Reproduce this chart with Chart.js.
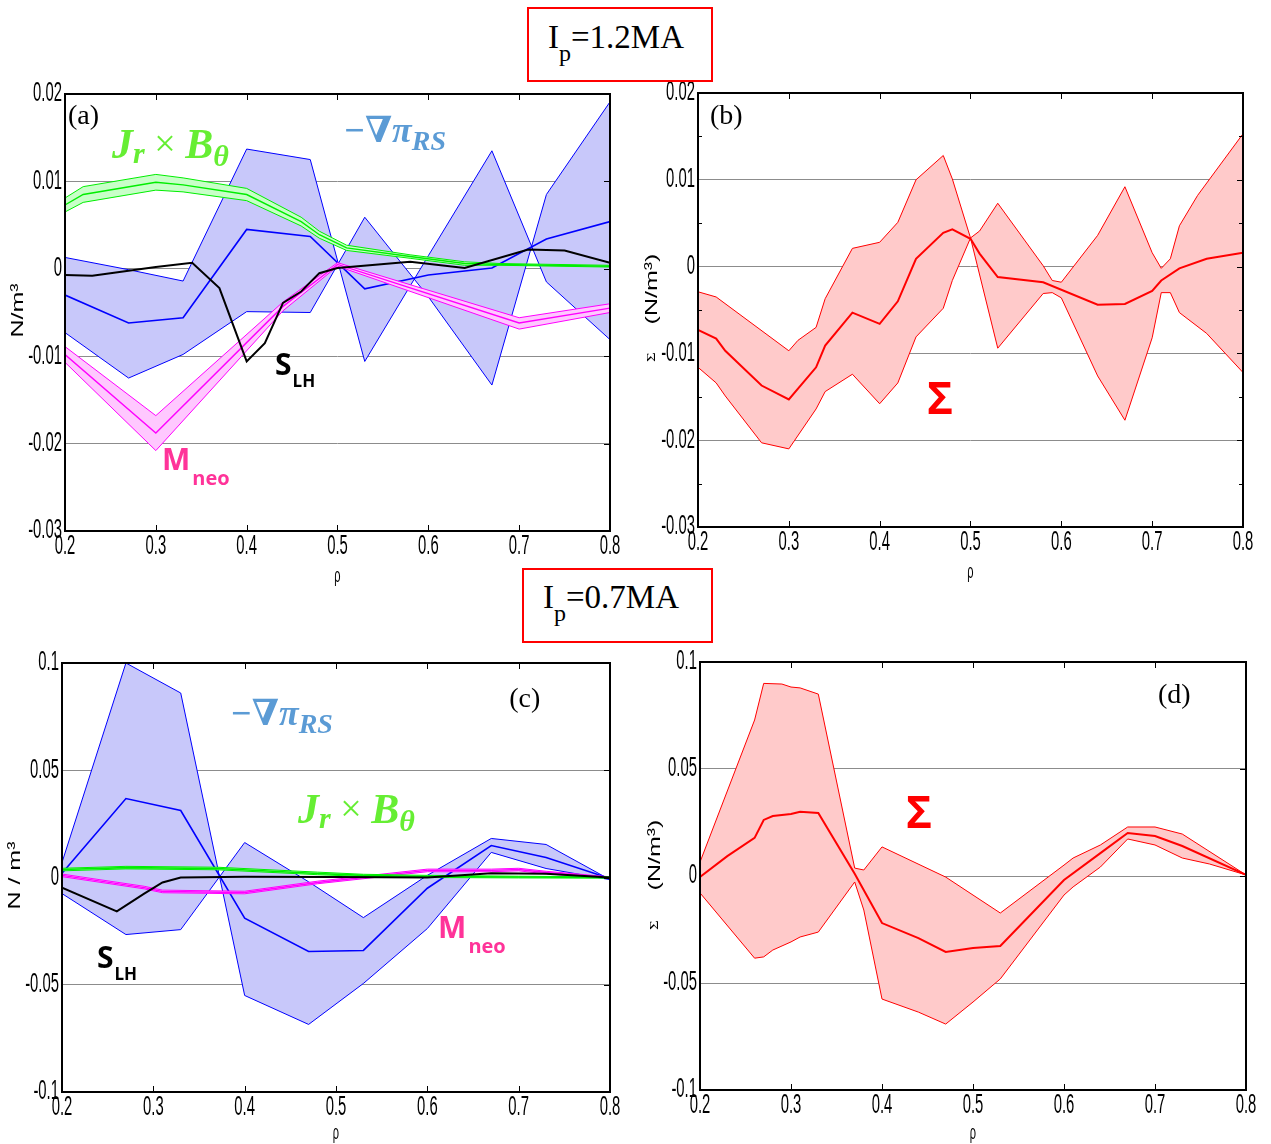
<!DOCTYPE html>
<html>
<head>
<meta charset="utf-8">
<script src="https://cdn.jsdelivr.net/npm/chart.js@4.4.1/dist/chart.umd.min.js"></script>
<style>
  body { margin: 0; background: #fff; width: 1271px; height: 1144px; position: relative; overflow: hidden; }
  canvas { position: absolute; }
  .ipbox { position: absolute; border: 2px solid #ff0000; box-sizing: border-box; background: #fff; z-index: 2; }
  .iptext { position: absolute; font-family: "Liberation Serif", "Times New Roman", serif; font-size: 33px; line-height: 1; white-space: nowrap; color: #000; }
  .iptext span { font-size: 24px; position: relative; top: 13px; }
</style>
</head>
<body>
<canvas id="panelA" width="635" height="590" style="left:0;top:0"></canvas>
<canvas id="panelB" width="636" height="590" style="left:635px;top:0"></canvas>
<canvas id="panelC" width="635" height="554" style="left:0;top:590px"></canvas>
<canvas id="panelD" width="636" height="554" style="left:635px;top:590px"></canvas>

<div class="ipbox" style="left:527px;top:7px;width:186px;height:75px"><div class="iptext" style="left:19px;top:12px">I<span>p</span>=1.2MA</div></div>
<div class="ipbox" style="left:522px;top:568px;width:191px;height:75px"><div class="iptext" style="left:19px;top:11px">I<span>p</span>=0.7MA</div></div>

<script>
// ---------------- (a) Ip = 1.2 MA : force terms ----------------
const rhoA_rs = [0.2, 0.27, 0.33, 0.4, 0.47, 0.53, 0.6, 0.67, 0.73, 0.8];
const rsA_edge1 = [0.0013, -0.0001, -0.0014, 0.0137, 0.0125, -0.0106, 0.0015, 0.0135, -0.0015, -0.0081];
const rsA_edge2 = [-0.0073, -0.0125, -0.0098, -0.0049, -0.0050, 0.0059, -0.0032, -0.0133, 0.0085, 0.0191];
const rsA_mid   = [-0.0030, -0.0062, -0.0056, 0.0045, 0.0037, -0.0023, -0.0007, 0.0001, 0.0034, 0.0054];

const rhoA_jxb = [0.2, 0.22, 0.3, 0.33, 0.4, 0.46, 0.48, 0.51, 0.58, 0.64, 0.68, 0.8];
const jxbA_hi  = [0.0081, 0.0094, 0.0108, 0.0104, 0.0092, 0.0059, 0.0043, 0.0027, 0.0016, 0.0008, 0.0006, 0.0004];
const jxbA_lo  = [0.0065, 0.0076, 0.0090, 0.0088, 0.0078, 0.0049, 0.0035, 0.0021, 0.0012, 0.0004, 0.0004, 0.0002];
const jxbA_mid = [0.0073, 0.0085, 0.0099, 0.0096, 0.0085, 0.0054, 0.0039, 0.0024, 0.0014, 0.0006, 0.0005, 0.0003];

const rhoA_neo = [0.2, 0.3, 0.44, 0.5, 0.7, 0.8];
const neoA_hi  = [-0.0089, -0.0168, -0.0038, 0.0007, -0.0056, -0.0040];
const neoA_lo  = [-0.0107, -0.0208, -0.0048, 0.0003, -0.0069, -0.0050];
const neoA_mid = [-0.0098, -0.0188, -0.0043, 0.0005, -0.0062, -0.0045];

const rhoA_slh = [0.2, 0.23, 0.3, 0.34, 0.37, 0.4, 0.42, 0.44, 0.46, 0.48, 0.5, 0.58, 0.64, 0.71, 0.75, 0.8];
const slhA     = [-0.0007, -0.0008, 0.0002, 0.0007, -0.0022, -0.0106, -0.0085, -0.0039, -0.0026, -0.0005, 0.0001, 0.0008, 0.0001, 0.0022, 0.0021, 0.0007];

// ---------------- (b) Ip = 1.2 MA : sum ----------------
const rhoB_e1 = [0.2, 0.22, 0.3, 0.31, 0.33, 0.34, 0.37, 0.4, 0.42, 0.44, 0.47, 0.48, 0.5, 0.53, 0.58, 0.59, 0.6, 0.64, 0.67, 0.7, 0.71, 0.72, 0.73, 0.76, 0.8];
const sumB_e1 = [-0.0029, -0.0035, -0.0097, -0.0085, -0.0070, -0.0037, 0.0021, 0.0028, 0.0051, 0.0100, 0.0128, 0.0101, 0.0033, -0.0094, -0.0031, -0.0030, -0.0036, -0.0126, -0.0177, -0.0082, -0.0030, -0.0030, -0.0053, -0.0077, -0.0122];
const rhoB_e2 = [0.2, 0.22, 0.23, 0.27, 0.3, 0.33, 0.34, 0.37, 0.4, 0.42, 0.44, 0.47, 0.48, 0.5, 0.51, 0.53, 0.58, 0.59, 0.6, 0.64, 0.67, 0.7, 0.71, 0.72, 0.73, 0.75, 0.8];
const sumB_e2 = [-0.0116, -0.0134, -0.0149, -0.0203, -0.0210, -0.0164, -0.0144, -0.0124, -0.0158, -0.0134, -0.0081, -0.0048, -0.0016, 0.0033, 0.0041, 0.0073, 0.0001, -0.0016, -0.0018, 0.0036, 0.0092, 0.0016, -0.0002, 0.0009, 0.0047, 0.0082, 0.0153];
const rhoB_mid = [0.2, 0.22, 0.23, 0.27, 0.3, 0.33, 0.34, 0.37, 0.4, 0.42, 0.44, 0.47, 0.48, 0.5, 0.51, 0.53, 0.58, 0.64, 0.67, 0.7, 0.71, 0.73, 0.76, 0.8];
const sumB_mid = [-0.0073, -0.0083, -0.0097, -0.0137, -0.0153, -0.0116, -0.0091, -0.0053, -0.0066, -0.0040, 0.0009, 0.0039, 0.0043, 0.0032, 0.0015, -0.0012, -0.0018, -0.0044, -0.0043, -0.0028, -0.0016, -0.0002, 0.0009, 0.0016];

// ---------------- (c) Ip = 0.7 MA : force terms ----------------
const rhoC_rs = [0.2, 0.27, 0.33, 0.4, 0.47, 0.53, 0.6, 0.67, 0.73, 0.8];
const rsC_edge1 = [0.007, 0.1, 0.086, -0.055, -0.0685, -0.0494, -0.0238, 0.0117, 0.0042, -0.001];
const rsC_edge2 = [-0.0075, -0.0266, -0.0243, 0.0163, -0.002, -0.0187, 0.001, 0.0182, 0.0154, -0.001];
const rsC_mid   = [0.002, 0.0368, 0.0312, -0.019, -0.0345, -0.034, -0.005, 0.0149, 0.0093, -0.0005];

const rhoC_jxb = [0.2, 0.27, 0.37, 0.48, 0.53, 0.6, 0.7, 0.8];
const jxbC_hi  = [0.0043, 0.0052, 0.0048, 0.0025, 0.0015, 0.0010, 0.0006, 0.0003];
const jxbC_lo  = [0.0031, 0.0040, 0.0036, 0.0013, 0.0005, 0.0000, -0.0002, -0.0003];
const jxbC_mid = [0.0037, 0.0046, 0.0042, 0.0019, 0.0010, 0.0005, 0.0002, 0.0];

const rhoC_neo = [0.2, 0.29, 0.31, 0.4, 0.48, 0.6, 0.67, 0.7, 0.73, 0.8];
const neoC_hi  = [0.0016, -0.0041, -0.0059, -0.0064, -0.0017, 0.0039, 0.0039, 0.0043, 0.0029, 0.0003];
const neoC_lo  = [0.0004, -0.0053, -0.0071, -0.0076, -0.0029, 0.0027, 0.0027, 0.0031, 0.0017, -0.0003];
const neoC_mid = [0.0010, -0.0047, -0.0065, -0.0070, -0.0023, 0.0033, 0.0033, 0.0037, 0.0023, 0.0];

const rhoC_slh = [0.2, 0.26, 0.29, 0.31, 0.33, 0.4, 0.5, 0.6, 0.67, 0.73, 0.8];
const slhC     = [-0.0047, -0.0158, -0.0075, -0.0023, 0.0, 0.0003, 0.0002, 0.0, 0.002, 0.0018, 0.0];

// ---------------- (d) Ip = 0.7 MA : sum ----------------
const rhoD_e1 = [0.2, 0.26, 0.27, 0.29, 0.3, 0.31, 0.33, 0.37, 0.38, 0.4, 0.47, 0.53, 0.6, 0.61, 0.64, 0.67, 0.7, 0.73, 0.8];
const sumD_e1 = [0.0065, 0.0729, 0.090, 0.0897, 0.0883, 0.0879, 0.085, 0.0037, 0.0028, 0.0136, -0.0005, -0.0173, 0.0051, 0.0084, 0.0145, 0.0229, 0.0229, 0.0196, 0.0005];
const rhoD_e2 = [0.2, 0.26, 0.27, 0.28, 0.3, 0.31, 0.33, 0.37, 0.38, 0.4, 0.44, 0.47, 0.5, 0.53, 0.55, 0.6, 0.61, 0.64, 0.67, 0.7, 0.73, 0.76, 0.8];
const sumD_e2 = [-0.0079, -0.0384, -0.0378, -0.0346, -0.0308, -0.0285, -0.0262, -0.0028, -0.0159, -0.0575, -0.0636, -0.0692, -0.0589, -0.0481, -0.0369, -0.0089, -0.0051, 0.0042, 0.0173, 0.0145, 0.0084, 0.0056, 0.0005];
const rhoD_mid = [0.2, 0.23, 0.26, 0.27, 0.28, 0.3, 0.31, 0.33, 0.37, 0.4, 0.44, 0.47, 0.5, 0.53, 0.6, 0.64, 0.67, 0.7, 0.73, 0.8];
const sumD_mid = [-0.0005, 0.0093, 0.0178, 0.0262, 0.028, 0.029, 0.030, 0.0294, 0.001, -0.022, -0.029, -0.0355, -0.0336, -0.0327, -0.0019, 0.0107, 0.0201, 0.0187, 0.014, 0.0005];

// ---------------- styles ----------------
const BLUE = "#0000ff", BLUE_FILL = "rgb(200,200,250)";
const GREEN = "#00ee00", GREEN_FILL = "rgb(200,255,200)";
const MAGENTA = "#ff00ff", MAGENTA_FILL = "rgb(255,200,255)";
const RED = "#ff0000", RED_FILL = "rgb(255,202,202)";
const TXT_GREEN = "#66ee33", TXT_BLUE = "#5b9bd5", TXT_PINK = "#ff3399";

const TICK_FONT = '27px "Liberation Sans", Arial, sans-serif';
const TITLE_FONT = '25px "Liberation Sans", Arial, sans-serif';
const SQUISH = 0.55;

function series(rho, vals, color, width, fill) {
  return {
    data: rho.map((r, i) => ({ x: r, y: vals[i] })),
    borderColor: color,
    borderWidth: width,
    backgroundColor: fill || "transparent",
    fill: fill ? "+1" : false,
    pointRadius: 0,
    tension: 0,
  };
}

// edge1 is filled toward edge2, the middle curve goes on top
function band(rho1, e1, rho2, e2, rhoM, mid, line, fill, midWidth) {
  return [series(rho1, e1, line, 1, fill), series(rho2, e2, line, 1), series(rhoM, mid, line, midWidth)];
}

function squish(ctx, txt, x, y, font, align, sx, rotated) {
  ctx.save();
  ctx.translate(x, y);
  if (rotated) { ctx.rotate(-Math.PI / 2); ctx.scale(1, sx); } else { ctx.scale(sx, 1); }
  ctx.font = font;
  ctx.textAlign = align;
  ctx.textBaseline = "middle";
  ctx.fillStyle = "#000";
  ctx.fillText(txt, 0, 0);
  ctx.restore();
}

function drawRich(ctx, x, y, parts) {
  let cx = x;
  for (const p of parts) {
    ctx.font = p.font;
    ctx.fillStyle = p.color;
    ctx.textAlign = "left";
    ctx.textBaseline = "alphabetic";
    cx += p.dx || 0;
    ctx.fillText(p.t, cx, y + (p.dy || 0));
    cx += ctx.measureText(p.t).width;
  }
}

const fmt = (v) => String(+v.toFixed(3));

// frame, inward ticks, tick labels, axis titles and in-plot labels
function makeDeco(cfg) {
  return {
    id: "deco",
    afterDraw(chart) {
      const { ctx, chartArea: a } = chart;
      const xs = chart.scales.x, ys = chart.scales.y;
      ctx.save();

      ctx.strokeStyle = "#000";
      ctx.lineWidth = 1;
      ctx.beginPath();
      xs.ticks.forEach((t) => {
        const px = Math.round(xs.getPixelForValue(t.value)) + 0.5;
        ctx.moveTo(px, a.top); ctx.lineTo(px, a.top + 6);
        ctx.moveTo(px, a.bottom); ctx.lineTo(px, a.bottom - 6);
      });
      ys.ticks.forEach((t) => {
        const py = Math.round(ys.getPixelForValue(t.value)) + 0.5;
        ctx.moveTo(a.right, py); ctx.lineTo(a.right - 6, py);
      });
      if (cfg.minor) {
        for (let i = 0; i < ys.ticks.length - 1; i++) {
          const py = Math.round(ys.getPixelForValue((ys.ticks[i].value + ys.ticks[i + 1].value) / 2)) + 0.5;
          ctx.moveTo(a.left, py); ctx.lineTo(a.left + 4, py);
          ctx.moveTo(a.right, py); ctx.lineTo(a.right - 4, py);
        }
      }
      ctx.stroke();

      ctx.lineWidth = 2;
      ctx.strokeRect(a.left, a.top, a.right - a.left, a.bottom - a.top);

      xs.ticks.forEach((t) => squish(ctx, t.value.toFixed(1), xs.getPixelForValue(t.value), a.bottom + 16, TICK_FONT, "center", SQUISH));
      ys.ticks.forEach((t) => squish(ctx, fmt(t.value), a.left - 3, ys.getPixelForValue(t.value), TICK_FONT, "right", SQUISH));

      squish(ctx, "ρ", (a.left + a.right) / 2, a.bottom + cfg.rhoDy, '20px "Liberation Sans", Arial, sans-serif', "center", SQUISH);
      const cy = (a.top + a.bottom) / 2;
      cfg.yTitle.forEach((p) => squish(ctx, p.t, a.left + p.dx, cy + p.dy, p.font || TITLE_FONT, "center", p.sx || 0.68, true));

      cfg.texts.forEach((tx) => drawRich(ctx, xs.getPixelForValue(tx.rho), ys.getPixelForValue(tx.val), tx.parts));
      ctx.restore();
    },
  };
}

function makePanel(id, pad, yMin, yMax, yStep, sets, cfg) {
  sets.forEach((d, i) => { d.order = sets.length - i; });
  return new Chart(document.getElementById(id), {
    type: "line",
    data: { datasets: sets },
    options: {
      responsive: false,
      animation: false,
      devicePixelRatio: 1,
      layout: { padding: pad },
      plugins: { legend: { display: false }, tooltip: { enabled: false } },
      scales: {
        x: {
          type: "linear", min: 0.2, max: 0.8,
          ticks: { display: false, stepSize: 0.1 },
          grid: { display: false, drawTicks: false },
          border: { display: false },
          afterFit: (s) => { s.height = 0; },
        },
        y: {
          type: "linear", min: yMin, max: yMax,
          ticks: { display: false, stepSize: yStep },
          grid: { color: "#8c8c8c", lineWidth: 1, drawTicks: false },
          border: { display: false },
          afterFit: (s) => { s.width = 0; },
        },
      },
    },
    plugins: [makeDeco(cfg)],
  });
}

// label pieces
const serifBI = (px) => `italic bold ${px}px "Liberation Serif", "DejaVu Serif", serif`;
const sansB = (px) => `bold ${px}px "Open Sans", "Liberation Sans", sans-serif`;
const panelTag = (t) => [{ t, font: '28px "Liberation Serif", serif', color: "#000" }];
const jxbLabel = [
  { t: "J", font: serifBI(42), color: TXT_GREEN },
  { t: "r", font: serifBI(30), color: TXT_GREEN, dy: 5 },
  { t: " × ", font: `38px "Liberation Serif", "DejaVu Serif", serif`, color: TXT_GREEN, dy: -2 },
  { t: "B", font: serifBI(42), color: TXT_GREEN },
  { t: "θ", font: serifBI(30), color: TXT_GREEN, dy: 8 },
];
const rsLabel = [
  { t: "−∇π", font: serifBI(36), color: TXT_BLUE },
  { t: "RS", font: serifBI(28), color: TXT_BLUE, dy: 8 },
];
const slhLabel = [
  { t: "S", font: sansB(30), color: "#000" },
  { t: "LH", font: sansB(17), color: "#000", dy: 12, dx: 1 },
];
const neoLabel = [
  { t: "M", font: sansB(30), color: TXT_PINK },
  { t: "neo", font: sansB(20), color: TXT_PINK, dy: 15, dx: 2 },
];
const sigmaLabel = [{ t: "Σ", font: sansB(44), color: RED }];

// (a)
makePanel("panelA", { left: 65, top: 94, right: 25, bottom: 59 }, -0.03, 0.02, 0.01, [
  ...band(rhoA_rs, rsA_edge1, rhoA_rs, rsA_edge2, rhoA_rs, rsA_mid, BLUE, BLUE_FILL, 1.6),
  ...band(rhoA_neo, neoA_hi, rhoA_neo, neoA_lo, rhoA_neo, neoA_mid, MAGENTA, MAGENTA_FILL, 1.4),
  ...band(rhoA_jxb, jxbA_hi, rhoA_jxb, jxbA_lo, rhoA_jxb, jxbA_mid, GREEN, GREEN_FILL, 1.4),
  series(rhoA_slh, slhA, "#000", 2),
], {
  rhoDy: 45,
  yTitle: [{ t: "N/m³", dx: -47, dy: -2 }],
  texts: [
    { rho: 0.2033, val: 0.0166, parts: panelTag("(a)") },
    { rho: 0.2518, val: 0.0127, parts: jxbLabel },
    { rho: 0.5062, val: 0.0145, parts: rsLabel },
    { rho: 0.4313, val: -0.0121, parts: slhLabel },
    { rho: 0.3068, val: -0.0230, parts: neoLabel },
  ],
});

// (b)
makePanel("panelB", { left: 63, top: 93, right: 28, bottom: 63 }, -0.03, 0.02, 0.01, [
  ...band(rhoB_e1, sumB_e1, rhoB_e2, sumB_e2, rhoB_mid, sumB_mid, RED, RED_FILL, 2),
], {
  rhoDy: 45,
  minor: true,
  yTitle: [
    { t: "(N/m³)", dx: -46, dy: -21 },
    { t: "Σ", dx: -46, dy: 47, font: '17px "Liberation Serif", serif' },
  ],
  texts: [
    { rho: 0.2132, val: 0.0164, parts: panelTag("(b)") },
    { rho: 0.4522, val: -0.0170, parts: sigmaLabel },
  ],
});

// (c)
makePanel("panelC", { left: 62, top: 73, right: 25, bottom: 52 }, -0.1, 0.1, 0.05, [
  ...band(rhoC_rs, rsC_edge1, rhoC_rs, rsC_edge2, rhoC_rs, rsC_mid, BLUE, BLUE_FILL, 1.6),
  ...band(rhoC_neo, neoC_hi, rhoC_neo, neoC_lo, rhoC_neo, neoC_mid, MAGENTA, MAGENTA_FILL, 1.4),
  ...band(rhoC_jxb, jxbC_hi, rhoC_jxb, jxbC_lo, rhoC_jxb, jxbC_mid, GREEN, GREEN_FILL, 1.6),
  series(rhoC_slh, slhC, "#000", 2),
], {
  rhoDy: 41,
  yTitle: [{ t: "N / m³", dx: -47, dy: -2 }],
  texts: [
    { rho: 0.6896, val: 0.0793, parts: panelTag("(c)") },
    { rho: 0.3840, val: 0.0709, parts: rsLabel },
    { rho: 0.4585, val: 0.0252, parts: jxbLabel },
    { rho: 0.2383, val: -0.0424, parts: slhLabel },
    { rho: 0.6118, val: -0.0280, parts: neoLabel },
  ],
});

// (d)
makePanel("panelD", { left: 65, top: 72, right: 25, bottom: 54 }, -0.1, 0.1, 0.05, [
  ...band(rhoD_e1, sumD_e1, rhoD_e2, sumD_e2, rhoD_mid, sumD_mid, RED, RED_FILL, 2),
], {
  rhoDy: 43,
  yTitle: [
    { t: "(N/m³)", dx: -45, dy: -21 },
    { t: "Σ", dx: -45, dy: 49, font: '17px "Liberation Serif", serif' },
  ],
  texts: [
    { rho: 0.7033, val: 0.0808, parts: panelTag("(d)") },
    { rho: 0.4264, val: 0.0224, parts: sigmaLabel },
  ],
});
</script>
</body>
</html>
